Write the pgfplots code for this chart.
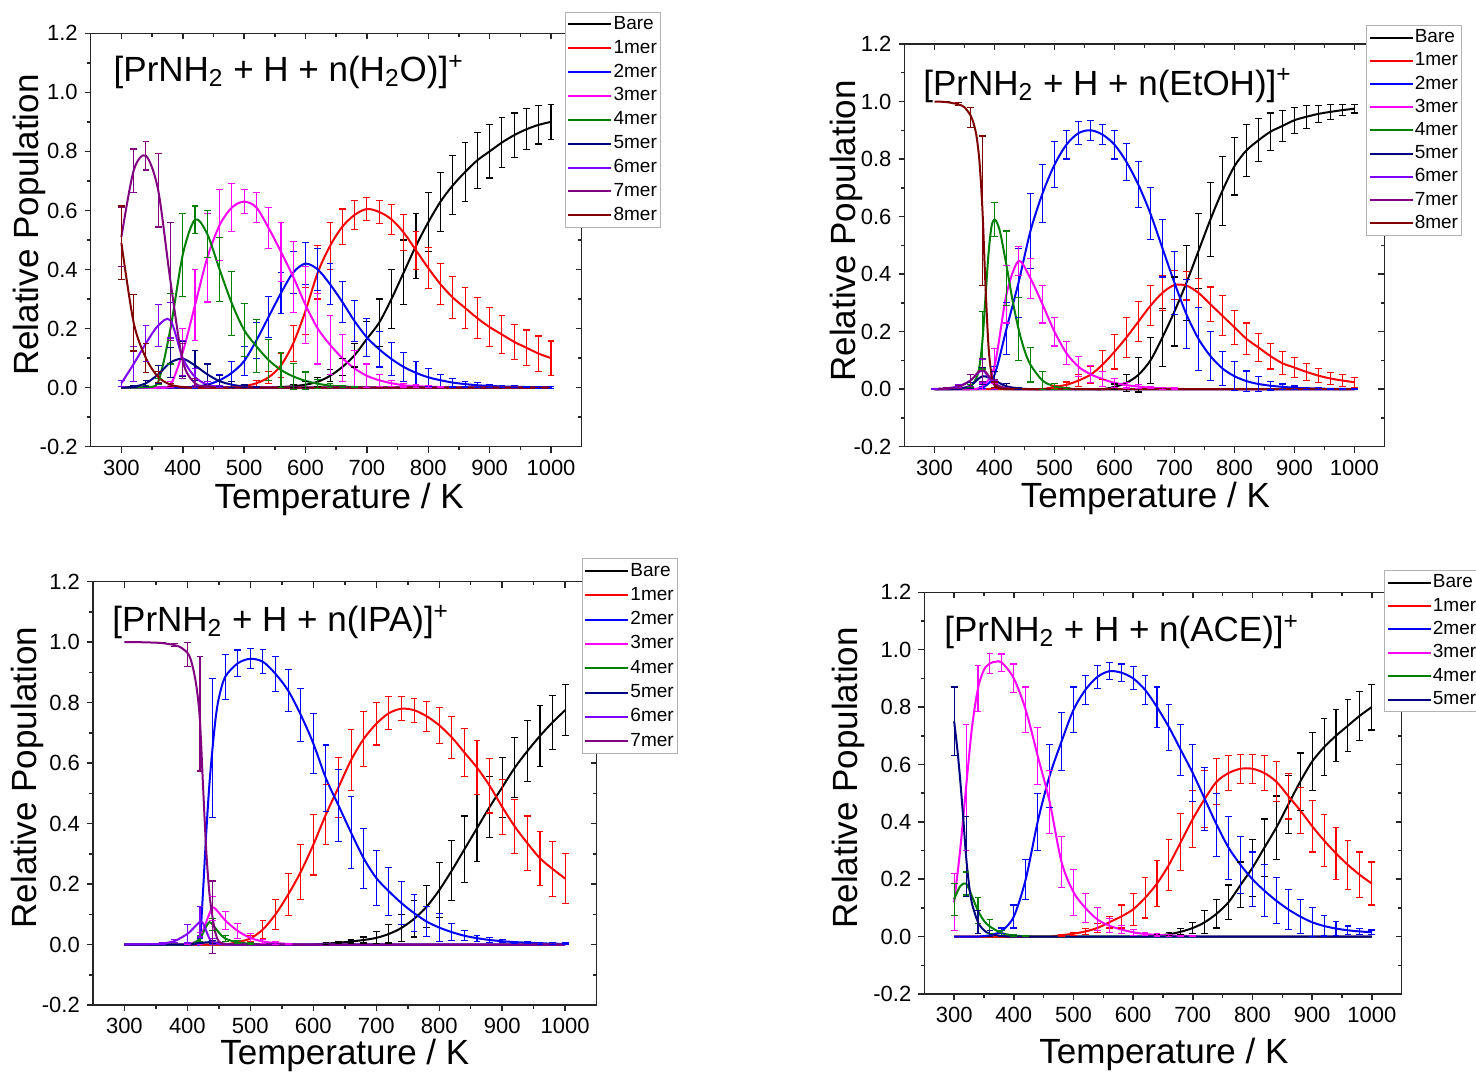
\documentclass[border=0pt]{standalone}
\usepackage{fontspec}
\setmainfont{Liberation Sans}
\usepackage{pgfplots}
\usepackage{pgfplotstable}
\pgfplotsset{compat=1.18}

\definecolor{cB}{RGB}{0,0,0}
\definecolor{cR}{RGB}{255,0,0}
\definecolor{cU}{RGB}{0,0,255}
\definecolor{cM}{RGB}{255,0,255}
\definecolor{cG}{RGB}{0,128,0}
\definecolor{cN}{RGB}{0,0,128}
\definecolor{cV}{RGB}{128,0,255}
\definecolor{cP}{RGB}{128,0,128}
\definecolor{cD}{RGB}{128,0,0}

% ---------- Panel 1: H2O ----------
\pgfplotstableread{
T    b     be    r     re    u     ue    m     me    g     ge    n     ne    v     ve    p     pe    d     de
300  0     0     0     0     0     0     0     0     0     0     0     0     .015  .01   .51   .10   .49   .125
320  0     0     0     0     0     0     0     0     0     0     .003  .003  .08   .06   .735  .073  .22   .096
340  0     0     0     0     0     0     0     0     .003  .003  .015  .01   .15   .06   .785  .048  .10   .05
360  0     0     0     0     0     0     0     0     .02   .01   .045  .03   .21   .07   .668  .124  .036  .02
380  0     0     0     0     0     0     .01   .01   .20   .12   .085  .05   .228  .06   .36   .20   .01   .005
400  0     0     0     0     0     0     .12   .08   .45   .14   .098  .06   .10   .06   .09   .06   .002  .002
420  0     0     0     0     .003  .005  .28   .12   .569  .046  .075  .05   .036  .03   .015  .015  0     0
440  0     0     0     0     .01   .01   .44   .15   .52   .08   .045  .035  .01   .01   .003  .003  0     0
460  0     0     0     0     .025  .02   .55   .12   .40   .107  .022  .02   .003  .003  0     0     0     0
480  0     0     0     0     .05   .04   .61   .08   .285  .107  .01   .01   0     0     0     0     0     0
500  0     0     .005  .005  .09   .05   .63   .04   .195  .09   .004  .005  0     0     0     0     0     0
520  0     0     .015  .01   .16   .06   .61   .05   .14   .09   .002  .002  0     0     0     0     0     0
540  0     0     .035  .02   .24   .07   .54   .07   .093  .07   0     0     0     0     0     0     0     0
560  .002  .003  .075  .04   .32   .07   .46   .10   .06   .06   0     0     0     0     0     0     0     0
580  .005  .005  .15   .06   .39   .07   .375  .12   .038  .045  0     0     0     0     0     0     0     0
600  .01   .01   .26   .08   .42   .07   .28   .13   .023  .03   0     0     0     0     0     0     0     0
620  .02   .015  .39   .09   .40   .07   .20   .12   .013  .015  0     0     0     0     0     0     0     0
640  .04   .02   .48   .08   .35   .07   .145  .10   .007  .008  0     0     0     0     0     0     0     0
660  .07   .03   .545  .06   .29   .07   .10   .08   .004  .004  0     0     0     0     0     0     0     0
680  .11   .04   .585  .05   .225  .07   .065  .06   .002  .002  0     0     0     0     0     0     0     0
700  .165  .06   .605  .04   .17   .065  .04   .04   0     0     0     0     0     0     0     0     0     0
720  .22   .08   .595  .04   .13   .06   .025  .02   0     0     0     0     0     0     0     0     0     0
740  .30   .10   .57   .05   .097  .055  .015  .01   0     0     0     0     0     0     0     0     0     0
760  .39   .11   .525  .06   .07   .05   .008  .006  0     0     0     0     0     0     0     0     0     0
780  .48   .11   .465  .065  .05   .04   .005  .004  0     0     0     0     0     0     0     0     0     0
800  .56   .10   .405  .07   .035  .03   .003  .003  0     0     0     0     0     0     0     0     0     0
820  .63   .10   .35   .07   .025  .02   .002  .002  0     0     0     0     0     0     0     0     0     0
840  .685  .10   .305  .07   .017  .015  0     0     0     0     0     0     0     0     0     0     0     0
860  .73   .10   .27   .07   .012  .01   0     0     0     0     0     0     0     0     0     0     0     0
880  .77   .095  .235  .07   .008  .008  0     0     0     0     0     0     0     0     0     0     0     0
900  .80   .09   .205  .065  .006  .005  0     0     0     0     0     0     0     0     0     0     0     0
920  .83   .085  .18   .065  .004  .003  0     0     0     0     0     0     0     0     0     0     0     0
940  .855  .075  .155  .06   .003  .003  0     0     0     0     0     0     0     0     0     0     0     0
960  .875  .07   .135  .06   .002  .003  0     0     0     0     0     0     0     0     0     0     0     0
980  .89   .065  .115  .06   .001  .003  0     0     0     0     0     0     0     0     0     0     0     0
1000 .90   .06   .10   .058  .001  .003  0     0     0     0     0     0     0     0     0     0     0     0
}\tabA

% ---------- Panel 2: EtOH ----------
\pgfplotstableread{
T    b     be    r     re    u     ue    m     me    g     ge    n     ne    v     ve    p     pe    d     de
300  0     0     0     0     0     0     0     0     0     0     0     0     .001  .001  0     0     1.0   0
320  0     0     0     0     0     0     0     0     0     0     0     0     .003  .003  .002  .002  .998  .002
340  0     0     0     0     0     0     0     0     .001  .001  .002  .002  .01   .005  .008  .005  .99   .005
360  0     0     0     0     0     0     0     0     .01   .005  .012  .01   .03   .02   .03   .02   .945  .035
380  0     0     0     0     .005  .003  .01   .01   .17   .10   .045  .03   .065  .04   .068  .04   .62   .26
400  0     0     0     0     .05   .03   .08   .06   .59   .06   .03   .03   .015  .015  .02   .015  .015  .01
420  0     0     0     0     .21   .09   .33   .10   .42   .13   .01   .01   .002  .002  .003  .003  .001  .001
440  0     0     0     0     .37   .12   .445  .05   .21   .11   .003  .003  0     0     0     0     0     0
460  0     0     0     0     .55   .13   .385  .07   .085  .06   0     0     0     0     0     0     0     0
480  0     0     0     0     .68   .10   .295  .065  .03   .03   0     0     0     0     0     0     0     0
500  0     0     .008  .005  .78   .08   .20   .05   .01   .01   0     0     0     0     0     0     0     0
520  0     0     .015  .01   .85   .05   .125  .04   .003  .003  0     0     0     0     0     0     0     0
540  0     0     .03   .02   .89   .04   .078  .035  0     0     0     0     0     0     0     0     0     0
560  0     0     .05   .03   .90   .035  .052  .03   0     0     0     0     0     0     0     0     0     0
580  0     0     .085  .05   .885  .035  .035  .025  0     0     0     0     0     0     0     0     0     0
600  .008  .01   .13   .06   .85   .05   .022  .015  0     0     0     0     0     0     0     0     0     0
620  .022  .03   .18   .07   .79   .065  .014  .01   0     0     0     0     0     0     0     0     0     0
640  .05   .06   .235  .07   .71   .08   .009  .006  0     0     0     0     0     0     0     0     0     0
660  .10   .08   .29   .07   .61   .09   .005  .004  0     0     0     0     0     0     0     0     0     0
680  .18   .10   .335  .06   .49   .10   .003  .003  0     0     0     0     0     0     0     0     0     0
700  .27   .12   .362  .05   .37   .11   .002  .002  0     0     0     0     0     0     0     0     0     0
720  .37   .13   .36   .05   .26   .12   0     0     0     0     0     0     0     0     0     0     0     0
740  .48   .13   .335  .05   .175  .11   0     0     0     0     0     0     0     0     0     0     0     0
760  .59   .13   .295  .06   .115  .085  0     0     0     0     0     0     0     0     0     0     0     0
780  .69   .12   .255  .07   .072  .06   0     0     0     0     0     0     0     0     0     0     0     0
800  .775  .10   .215  .06   .045  .05   0     0     0     0     0     0     0     0     0     0     0     0
820  .83   .09   .175  .055  .028  .035  0     0     0     0     0     0     0     0     0     0     0     0
840  .865  .075  .145  .05   .018  .025  0     0     0     0     0     0     0     0     0     0     0     0
860  .895  .065  .115  .045  .012  .015  0     0     0     0     0     0     0     0     0     0     0     0
880  .915  .055  .09   .04   .008  .01   0     0     0     0     0     0     0     0     0     0     0     0
900  .935  .045  .075  .035  .005  .006  0     0     0     0     0     0     0     0     0     0     0     0
920  .947  .04   .06   .03   .003  .004  0     0     0     0     0     0     0     0     0     0     0     0
940  .957  .03   .047  .025  .002  .003  0     0     0     0     0     0     0     0     0     0     0     0
960  .964  .025  .037  .02   .001  .002  0     0     0     0     0     0     0     0     0     0     0     0
980  .97   .02   .03   .02   .001  .002  0     0     0     0     0     0     0     0     0     0     0     0
1000 .975  .015  .024  .018  .001  .002  0     0     0     0     0     0     0     0     0     0     0     0
}\tabB

% ---------- Panel 3: IPA ----------
\pgfplotstableread{
T    b     be    r     re    u     ue    m     me    g     ge    n     ne    v     ve    p     pe
300  0     0     0     0     0     0     0     0     0     0     0     0     0     0     1.0   0
320  0     0     0     0     0     0     0     0     0     0     0     0     0     0     1.0   0
340  0     0     0     0     0     0     0     0     0     0     0     0     .001  .001  .999  .001
360  0     0     0     0     0     0     0     0     0     0     0     0     .003  .002  .997  .002
380  0     0     0     0     0     0     0     0     0     0     0     0     .012  .005  .99   .005
400  0     0     0     0     0     0     .002  .002  0     0     0     0     .035  .03   .96   .04
420  0     0     0     0     .01   .01   .02   .02   .02   .01   .005  .003  .075  .05   .764  .19
440  0     0     0     0     .65   .23   .12   .04   .065  .02   .008  .005  .01   .01   .09   .12
460  0     0     0     0     .885  .074  .08   .03   .02   .01   .002  .002  .001  .001  .002  .002
480  0     0     .008  .005  .93   .044  .045  .025  .007  .005  0     0     0     0     0     0
500  0     0     .02   .01   .945  .033  .022  .015  .003  .002  0     0     0     0     0     0
520  0     0     .05   .03   .935  .04   .01   .008  0     0     0     0     0     0     0     0
540  0     0     .10   .05   .895  .058  .005  .004  0     0     0     0     0     0     0     0
560  0     0     .165  .07   .84   .07   .002  .002  0     0     0     0     0     0     0     0
580  0     0     .24   .09   .76   .088  0     0     0     0     0     0     0     0     0     0
600  0     0     .33   .10   .665  .10   0     0     0     0     0     0     0     0     0     0
620  .003  .003  .43   .10   .55   .11   0     0     0     0     0     0     0     0     0     0
640  .006  .004  .52   .10   .46   .12   0     0     0     0     0     0     0     0     0     0
660  .01   .005  .61   .10   .37   .12   0     0     0     0     0     0     0     0     0     0
680  .015  .01   .68   .09   .285  .10   0     0     0     0     0     0     0     0     0     0
700  .022  .02   .73   .07   .22   .09   0     0     0     0     0     0     0     0     0     0
720  .035  .03   .765  .055  .176  .08   0     0     0     0     0     0     0     0     0     0
740  .055  .045  .78   .04   .137  .07   0     0     0     0     0     0     0     0     0     0
760  .085  .06   .775  .04   .104  .06   0     0     0     0     0     0     0     0     0     0
780  .125  .07   .755  .05   .076  .05   0     0     0     0     0     0     0     0     0     0
800  .18   .09   .725  .06   .056  .046  0     0     0     0     0     0     0     0     0     0
820  .245  .10   .685  .07   .041  .028  0     0     0     0     0     0     0     0     0     0
840  .315  .11   .635  .08   .029  .017  0     0     0     0     0     0     0     0     0     0
860  .385  .11   .585  .09   .021  .01   0     0     0     0     0     0     0     0     0     0
880  .455  .10   .525  .09   .015  .008  0     0     0     0     0     0     0     0     0     0
900  .52   .10   .455  .09   .011  .005  0     0     0     0     0     0     0     0     0     0
920  .585  .10   .39   .09   .008  .003  0     0     0     0     0     0     0     0     0     0
940  .64   .10   .335  .09   .006  .003  0     0     0     0     0     0     0     0     0     0
960  .69   .10   .285  .09   .004  .003  0     0     0     0     0     0     0     0     0     0
980  .735  .09   .25   .09   .003  .003  0     0     0     0     0     0     0     0     0     0
1000 .775  .085  .218  .083  .002  .003  0     0     0     0     0     0     0     0     0     0
}\tabC

% ---------- Panel 4: ACE ----------
\pgfplotstableread{
T    b     be    r     re    u     ue    m     me    g     ge    n     ne
300  0     0     0     0     0     0     .12   .10   .13   .055  .75   .12
320  0     0     0     0     0     0     .52   .22   .185  .04   .28   .14
340  0     0     0     0     0     0     .865  .08   .09   .045  .05   .04
360  0     0     0     0     .005  .005  .952  .035  .035  .025  .01   .01
380  0     0     0     0     .02   .01   .955  .03   .012  .01   .002  .002
400  0     0     0     0     .07   .04   .90   .05   .004  .004  0     0
420  0     0     0     0     .20   .07   .79   .08   .001  .001  0     0
440  0     0     0     0     .40   .10   .63   .10   0     0     0     0
460  0     0     0     0     .56   .11   .47   .11   0     0     0     0
480  0     0     .005  .003  .68   .10   .26   .09   0     0     0     0
500  0     0     .01   .005  .79   .08   .155  .08   0     0     0     0
520  0     0     .018  .01   .86   .05   .10   .05   0     0     0     0
540  0     0     .03   .015  .905  .04   .06   .04   0     0     0     0
560  0     0     .05   .02   .925  .03   .038  .025  0     0     0     0
580  0     0     .07   .04   .92   .03   .025  .015  0     0     0     0
600  0     0     .095  .055  .90   .04   .015  .01   0     0     0     0
620  0     0     .135  .07   .86   .05   .009  .006  0     0     0     0
640  .004  .003  .185  .08   .80   .07   .006  .004  0     0     0     0
660  .008  .005  .25   .09   .73   .08   .004  .003  0     0     0     0
680  .017  .01   .33   .10   .65   .09   .003  .002  0     0     0     0
700  .03   .02   .41   .10   .57   .10   .002  .001  0     0     0     0
720  .05   .04   .48   .10   .48   .11   0     0     0     0     0     0
740  .08   .05   .54   .08   .39   .11   0     0     0     0     0     0
760  .12   .06   .57   .06   .31   .11   0     0     0     0     0     0
780  .18   .08   .585  .05   .25   .10   0     0     0     0     0     0
800  .24   .10   .585  .05   .20   .095  0     0     0     0     0     0
820  .31   .10   .57   .06   .16   .09   0     0     0     0     0     0
840  .38   .11   .54   .07   .125  .08   0     0     0     0     0     0
860  .46   .10   .49   .08   .095  .07   0     0     0     0     0     0
880  .54   .10   .44   .08   .07   .06   0     0     0     0     0     0
900  .61   .10   .385  .09   .05   .05   0     0     0     0     0     0
920  .66   .10   .335  .09   .037  .035  0     0     0     0     0     0
940  .70   .09   .29   .09   .028  .025  0     0     0     0     0     0
960  .735  .09   .25   .085  .022  .015  0     0     0     0     0     0
980  .77   .085  .215  .08   .018  .01   0     0     0     0     0     0
1000 .80   .08   .185  .075  .015  .008  0     0     0     0     0     0
}\tabD

\pgfplotsset{
  panel/.style={scale only axis, xmin=250, xmax=1050, ymin=-0.2, ymax=1.2,
    xtick={300,400,...,1000}, ytick={-0.2,0,0.2,0.4,0.6,0.8,1.0,1.2},
    minor x tick num=1, minor y tick num=1,
    major tick length=3pt, minor tick length=1.8pt,
    axis line style={-, line width=0.75pt, black!85},
    every tick/.style={line width=0.75pt, black!85},
    anchor=south west},
  front/.style={panel, axis x line*=bottom, axis y line*=left, tick align=outside,
    tick label style={font=\fontsize{11}{13}\selectfont},
    /pgf/number format/assume math mode=true,
    yticklabel style={/pgf/number format/fixed, /pgf/number format/fixed zerofill, /pgf/number format/precision=1},
    xticklabel style={/pgf/number format/set thousands separator={}},
    label style={font=\fontsize{17.5}{20}\selectfont},
    xlabel={Temperature / K}, ylabel={Relative Population},
    legend cell align=left,
    legend image code/.code={\draw[#1, line width=1pt] (0pt,0pt) -- (21.5pt,0pt);},
    legend style={anchor=north west, draw=black!30, fill=white,
      font=\fontsize{9.5}{11}\selectfont, inner xsep=1pt, inner ysep=1pt,
      nodes={inner sep=0.6pt, text height=7pt, text depth=2pt}},
  },
  back/.style={panel, axis x line*=top, axis y line*=right, tick align=inside,
    xticklabels={}, yticklabels={}},
  ln/.style={line width=1pt, smooth},
}

\newcommand{\sline}[4]{\addplot[ln, color=#3] table[x=T, y=#2]{#1}; \addlegendentry{#4}}
% error bars only: table, column, colour, x-domain where the series is non-zero
\newcommand{\eb}[4]{\addplot[forget plot, draw=none, mark=none,
  restrict x to domain=#4,
  error bars/.cd, y dir=both, y explicit,
  error bar style={draw=#3, line width=0.55pt, solid},
  error mark options={rotate=90, mark size=1.7pt, line width=0.55pt, draw=#3, solid}]
  table[x=T, y=#2, y error=#2e]{#1};}
\newcommand{\ttl}[1]{\node[anchor=base west, inner sep=0pt, font=\fontsize{17.5}{20}\selectfont] at #1}

\begin{document}
\begin{tikzpicture}
\useasboundingbox (0,0) rectangle (738pt,537pt);

% ================= Panel 1 =================
\begin{axis}[back, at={(45.35pt,313.65pt)}, width=245.5pt, height=206.7pt]
\end{axis}
\begin{axis}[front, at={(45.35pt,313.65pt)}, width=245.5pt, height=206.7pt,
  xlabel style={at={(axis description cs:0.506,-0.149)}, anchor=base},
  ylabel style={at={(axis description cs:-0.1067,0.536)}, anchor=base},
  legend style={at={(0.966,1.052)}, row sep=1.73pt}]
\sline{\tabA}{b}{cB}{Bare}
\sline{\tabA}{r}{cR}{1mer}
\sline{\tabA}{u}{cU}{2mer}
\sline{\tabA}{m}{cM}{3mer}
\sline{\tabA}{g}{cG}{4mer}
\sline{\tabA}{n}{cN}{5mer}
\sline{\tabA}{v}{cV}{6mer}
\sline{\tabA}{p}{cP}{7mer}
\sline{\tabA}{d}{cD}{8mer}
\eb{\tabA}{b}{cB}{560:1000}\eb{\tabA}{r}{cR}{500:1000}\eb{\tabA}{u}{cU}{420:1000}
\eb{\tabA}{m}{cM}{380:820}\eb{\tabA}{g}{cG}{340:680}\eb{\tabA}{n}{cN}{320:520}
\eb{\tabA}{v}{cV}{300:460}\eb{\tabA}{p}{cP}{300:440}\eb{\tabA}{d}{cD}{300:400}
\ttl{(rel axis cs:0.046,0.883)} {[PrNH\textsubscript{2} + H + n(H\textsubscript{2}O)]\textsuperscript{+}};
\end{axis}

% ================= Panel 2 =================
\begin{axis}[back, at={(452.25pt,313.65pt)}, width=239.95pt, height=201.35pt]
\end{axis}
\begin{axis}[front, at={(452.25pt,313.65pt)}, width=239.95pt, height=201.35pt,
  xlabel style={at={(axis description cs:0.502,-0.1505)}, anchor=base},
  ylabel style={at={(axis description cs:-0.1017,0.536)}, anchor=base},
  legend style={at={(0.962,1.047)}, row sep=1.4pt}]
\sline{\tabB}{b}{cB}{Bare}
\sline{\tabB}{r}{cR}{1mer}
\sline{\tabB}{u}{cU}{2mer}
\sline{\tabB}{m}{cM}{3mer}
\addplot[ln, color=cG] coordinates {(300,0)(340,0.001)(360,0.01)(370,0.04)(375,0.08)(380,0.17)(385,0.32)(390,0.47)(395,0.565)(400,0.59)(405,0.575)(410,0.54)(420,0.43)(430,0.31)(440,0.21)(450,0.135)(460,0.085)(480,0.03)(500,0.01)(520,0.003)(540,0)(560,0)(600,0)(700,0)(800,0)(900,0)(1000,0)};
\addlegendentry{4mer}
\sline{\tabB}{n}{cN}{5mer}
\sline{\tabB}{v}{cV}{6mer}
\sline{\tabB}{p}{cP}{7mer}
\addplot[ln, color=cD] coordinates {(300,1)(320,0.998)(340,0.99)(350,0.98)(360,0.952)(365,0.925)(370,0.88)(375,0.79)(380,0.62)(385,0.36)(390,0.15)(395,0.05)(400,0.015)(410,0.002)(420,0)(440,0)(460,0)(480,0)(500,0)(600,0)(700,0)(800,0)(900,0)(1000,0)};
\addlegendentry{8mer}
\eb{\tabB}{b}{cB}{600:1000}\eb{\tabB}{r}{cR}{500:1000}\eb{\tabB}{u}{cU}{380:1000}
\eb{\tabB}{m}{cM}{380:700}\eb{\tabB}{g}{cG}{340:520}\eb{\tabB}{n}{cN}{340:440}
\eb{\tabB}{v}{cV}{300:420}\eb{\tabB}{p}{cP}{320:420}\eb{\tabB}{d}{cD}{320:420}
\ttl{(rel axis cs:0.0385,0.873)} {[PrNH\textsubscript{2} + H + n(EtOH)]\textsuperscript{+}};
\end{axis}

% ================= Panel 3 =================
\begin{axis}[back, at={(46.45pt,34.5pt)}, width=251.9pt, height=211.65pt]
\end{axis}
\begin{axis}[front, at={(46.45pt,34.5pt)}, width=251.9pt, height=211.65pt,
  xlabel style={at={(axis description cs:0.5,-0.1417)}, anchor=base},
  ylabel style={at={(axis description cs:-0.111,0.537)}, anchor=base},
  legend style={at={(0.9706,1.055)}, row sep=1.95pt}]
\sline{\tabC}{b}{cB}{Bare}
\sline{\tabC}{r}{cR}{1mer}
\addplot[ln, color=cU] coordinates {(300,0)(400,0)(410,0.001)(415,0.003)(420,0.012)(425,0.18)(430,0.37)(435,0.53)(440,0.65)(445,0.75)(450,0.815)(460,0.885)(480,0.93)(500,0.945)(520,0.935)(540,0.895)(560,0.84)(580,0.76)(600,0.665)(620,0.55)(640,0.46)(660,0.37)(680,0.285)(700,0.22)(720,0.176)(740,0.137)(760,0.104)(780,0.076)(800,0.056)(820,0.041)(840,0.029)(860,0.021)(880,0.015)(900,0.011)(920,0.008)(940,0.006)(960,0.004)(980,0.003)(1000,0.002)};
\addlegendentry{2mer}
\addplot[ln, color=cM] coordinates {(300,0)(380,0)(400,0.002)(410,0.006)(420,0.02)(430,0.075)(440,0.122)(450,0.105)(460,0.08)(480,0.045)(500,0.022)(520,0.01)(540,0.005)(560,0.002)(580,0)(600,0)(700,0)(800,0)(900,0)(1000,0)};
\addlegendentry{3mer}
\addplot[ln, color=cG] coordinates {(300,0)(400,0)(410,0.005)(420,0.02)(430,0.06)(435,0.074)(440,0.066)(450,0.04)(460,0.02)(480,0.007)(500,0.003)(520,0)(600,0)(700,0)(800,0)(900,0)(1000,0)};
\addlegendentry{4mer}
\sline{\tabC}{n}{cN}{5mer}
\addplot[ln, color=cV] coordinates {(300,0)(340,0.001)(360,0.003)(380,0.012)(400,0.035)(410,0.055)(420,0.075)(425,0.07)(430,0.045)(435,0.02)(440,0.008)(450,0.002)(460,0)(500,0)(600,0)(700,0)(800,0)(900,0)(1000,0)};
\addlegendentry{6mer}
\addplot[ln, color=cP] coordinates {(300,1)(320,1)(340,0.999)(360,0.997)(380,0.99)(390,0.982)(400,0.965)(405,0.945)(410,0.905)(415,0.845)(420,0.74)(425,0.52)(430,0.31)(435,0.17)(440,0.09)(445,0.035)(450,0.01)(460,0.002)(480,0)(500,0)(600,0)(700,0)(800,0)(900,0)(1000,0)};
\addlegendentry{7mer}
\eb{\tabC}{b}{cB}{620:1000}\eb{\tabC}{r}{cR}{480:1000}\eb{\tabC}{u}{cU}{420:1000}
\eb{\tabC}{m}{cM}{400:560}\eb{\tabC}{g}{cG}{420:500}\eb{\tabC}{n}{cN}{420:460}
\eb{\tabC}{v}{cV}{340:460}\eb{\tabC}{p}{cP}{340:460}
\ttl{(rel axis cs:0.038,0.882)} {[PrNH\textsubscript{2} + H + n(IPA)]\textsuperscript{+}};
\end{axis}

% ================= Panel 4 =================
\begin{axis}[back, at={(462.15pt,40pt)}, width=238.65pt, height=200.85pt]
\end{axis}
\begin{axis}[front, at={(462.15pt,40pt)}, width=238.65pt, height=200.85pt,
  xlabel style={at={(axis description cs:0.502,-0.1725)}, anchor=base},
  ylabel style={at={(axis description cs:-0.139,0.538)}, anchor=base},
  legend style={at={(0.9637,1.0555)}, row sep=1.5pt}]
\sline{\tabD}{b}{cB}{Bare}
\sline{\tabD}{r}{cR}{1mer}
\sline{\tabD}{u}{cU}{2mer}
\addplot[ln, color=cM] coordinates {(300,0.12)(310,0.3)(320,0.52)(330,0.73)(340,0.865)(350,0.93)(360,0.952)(370,0.958)(380,0.955)(400,0.9)(420,0.79)(440,0.63)(460,0.47)(480,0.26)(500,0.155)(520,0.10)(540,0.06)(560,0.038)(580,0.025)(600,0.015)(620,0.009)(640,0.006)(660,0.004)(680,0.003)(700,0.002)(720,0)(800,0)(900,0)(1000,0)};
\addlegendentry{3mer}
\addplot[ln, color=cG] coordinates {(300,0.13)(310,0.175)(320,0.185)(330,0.14)(340,0.09)(350,0.055)(360,0.035)(380,0.012)(400,0.004)(420,0.001)(440,0)(500,0)(600,0)(700,0)(800,0)(900,0)(1000,0)};
\addlegendentry{4mer}
\addplot[ln, color=cN] coordinates {(300,0.75)(305,0.66)(310,0.55)(315,0.42)(320,0.28)(325,0.18)(330,0.115)(340,0.05)(350,0.022)(360,0.01)(380,0.002)(400,0)(500,0)(600,0)(700,0)(800,0)(900,0)(1000,0)};
\addlegendentry{5mer}
\eb{\tabD}{b}{cB}{640:1000}\eb{\tabD}{r}{cR}{480:1000}\eb{\tabD}{u}{cU}{360:1000}
\eb{\tabD}{m}{cM}{300:700}\eb{\tabD}{g}{cG}{300:420}\eb{\tabD}{n}{cN}{300:380}
\ttl{(rel axis cs:0.041,0.877)} {[PrNH\textsubscript{2} + H + n(ACE)]\textsuperscript{+}};
\end{axis}
\end{tikzpicture}
\end{document}
